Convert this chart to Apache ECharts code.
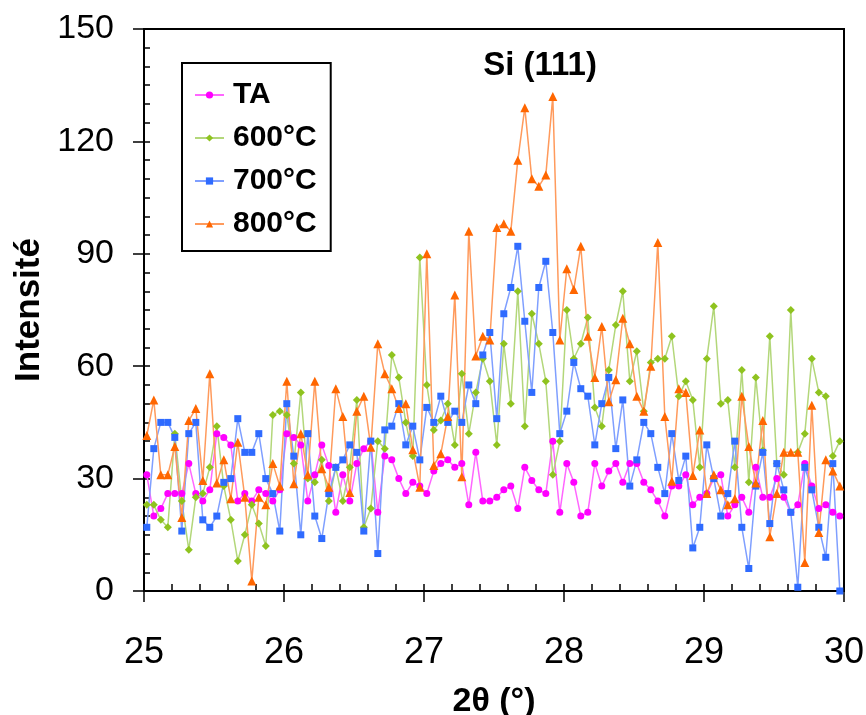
<!DOCTYPE html>
<html><head><meta charset="utf-8">
<script src="https://cdn.jsdelivr.net/npm/echarts@6/dist/echarts.min.js"></script>
<style>html,body{margin:0;padding:0;background:#fff}#c{width:866px;height:715px}</style>
</head><body><div id="c"></div>
<script>
const twoTheta = [
25.02,25.07,25.12,25.17,25.22,25.27,25.32,25.37,25.42,25.47,
25.52,25.57,25.62,25.67,25.72,25.77,25.82,25.87,25.92,25.97,
26.02,26.07,26.12,26.17,26.22,26.27,26.32,26.37,26.42,26.47,
26.52,26.57,26.62,26.67,26.72,26.77,26.82,26.87,26.92,26.97,
27.02,27.07,27.12,27.17,27.22,27.27,27.32,27.37,27.42,27.47,
27.52,27.57,27.62,27.67,27.72,27.77,27.82,27.87,27.92,27.97,
28.02,28.07,28.12,28.17,28.22,28.27,28.32,28.37,28.42,28.47,
28.52,28.57,28.62,28.67,28.72,28.77,28.82,28.87,28.92,28.97,
29.02,29.07,29.12,29.17,29.22,29.27,29.32,29.37,29.42,29.47,
29.52,29.57,29.62,29.67,29.72,29.77,29.82,29.87,29.92,29.97];

const TA = [
31,20,22,26,26,26,34,26,24,27,
42,41,39,24,26,24,27,26,24,27,
42,41,39,24,31,39,33.5,21,31,24,
34,38,40,21,36,35,30,26,29,28,
26,32,34,35,33,34,23,37,24,24,
25,27,28,22,33,29.5,27,26,40,21,
34,29,20,21,34,28,32,34,29,34,
34,29,27,24,20,28,28,31,23,25,
26,30,31,20,23,25,21,33,25,25,
30,25,21,23,34,28,22,23,21,20];

const T600 = [
23,23,19,17,42,24,11,25,26,33,
44,28,19,8,15,23,18,12,47,48,
47,34,53,30,29,35,24,33,24,33,
51,17,22,40,38,63,57,45,36,89,
55,43,45.5,50,39,58,42,53,62,56,
39,66,50,80,44,74,66,56,31,40,
75,62,66,73,49,44,59,71,80,56,
64,48,61,62,62,68,52,56,51,33,
62,76,50,51,33,59,29,57,37.5,68,
34,31,75,37,42,62,53,52,36,40];

const T700 = [
17,38,45,45,41,16,42,45,19,17,
20,29,30,46,37,37,42,30,26,16,
50,36,15,42,20,14,26,33,35,39,
37,16,40,10,43,44,50,39,44,35,
49,45,52,45,48,45,55,50,63,69,
46,74,81,92,72,53,81,88,69,42,
48,61,54,52,39,50,57,38,51,28,
35,45,42,33,26,42,29.5,36,11.5,17,
39,30,20,26,40,17,6,28,37,18,
34,27,21,1,33,27,17,9,34,0];

const T800 = [
41.5,51,31,31,38.6,19.6,45.5,48.7,29.5,58,
28.8,35,24.6,39.7,25,2.7,25,23,34,28,
56,28.6,42,31,56,32.6,27.7,54,46.6,26.3,
48,52,38.4,66,58,54,48.7,50,37.7,27.7,
90,33.5,36.6,46.6,79,30.5,96,62.7,68,67,
97,98,96,115,129,110,108,111,132,67,
86,80.5,92,68,57,70.6,50.5,56.4,72.8,66,
52,48,60,93,46.6,29.3,54,53,30.8,43,
26,31,27,23,24.6,52,38.6,28.8,45.5,14.5,
26,37,37,37,7.6,49.6,15.6,35,32,28];

const seriesNames = ['TA','600°C','700°C','800°C'];
const xTicks = [25,26,27,28,29,30];
const yTicks = [0,30,60,90,120,150];

const FONT = '"Liberation Sans", Arial, sans-serif';
function pairs(ys){ return twoTheta.map((x,i)=>[x, ys[i]]); }
function mk(name, ys, symbol, size, mColor, lColor){
  return {name, type:'line', data:pairs(ys), xAxisIndex:0, yAxisIndex:0,
    symbol, symbolSize:size, showSymbol:true,
    itemStyle:{color:mColor}, lineStyle:{color:lColor, width:1.5},
    emphasis:{disabled:true}, animation:false};
}
const G = {left:144, top:29, width:700, height:562};
const chart = echarts.init(document.getElementById('c'));
chart.setOption({
  animation:false,
  backgroundColor:'#fff',
  title:{text:'Si (111)', left:535, top:44, textAlign:'center',
    textStyle:{fontFamily:FONT, fontSize:33, fontWeight:'bold', color:'#000'}},
  legend:{data:seriesNames, orient:'vertical', left:182, top:63,
    padding:[17,14,12,12], itemGap:13, itemWidth:29, itemHeight:9,
    borderColor:'#000', borderWidth:2, backgroundColor:'#fff',
    textStyle:{fontFamily:FONT, fontSize:30, fontWeight:'bold', color:'#000', lineHeight:30, padding:[0,0,0,4]}},
  grid:[
    Object.assign({show:true, borderColor:'#000', borderWidth:2, backgroundColor:'transparent', outerBoundsMode:'none'}, G),
    Object.assign({show:false, outerBoundsMode:'none'}, G)
  ],
  xAxis:[
    {type:'value', gridIndex:0, min:xTicks[0], max:xTicks[xTicks.length-1], interval:1, position:'bottom',
     name:'2θ (°)', nameLocation:'middle', nameGap:94,
     nameTextStyle:{fontFamily:FONT, fontSize:34, fontWeight:'bold', color:'#000'},
     axisLine:{show:true, lineStyle:{color:'#000', width:2}},
     axisTick:{show:true, inside:false, length:11, lineStyle:{color:'#000', width:1.5}},
     axisLabel:{fontFamily:FONT, fontSize:36, color:'#000', margin:44},
     splitLine:{show:false}, minorTick:{show:false}},
    {type:'value', gridIndex:1, min:xTicks[0], max:xTicks[xTicks.length-1], interval:0.2, position:'bottom',
     axisLine:{show:false}, axisLabel:{show:false},
     axisTick:{show:true, inside:true, length:7, lineStyle:{color:'#000', width:1.5}},
     splitLine:{show:false}}
  ],
  yAxis:[
    {type:'value', gridIndex:0, min:yTicks[0], max:yTicks[yTicks.length-1], interval:30, position:'left',
     name:'Intensité', nameLocation:'middle', nameGap:96,
     nameTextStyle:{fontFamily:FONT, fontSize:35, fontWeight:'bold', color:'#000'},
     axisLine:{show:true, lineStyle:{color:'#000', width:2}},
     axisTick:{show:true, inside:false, length:11, lineStyle:{color:'#000', width:1.5}},
     axisLabel:{fontFamily:FONT, fontSize:34, color:'#000', margin:30},
     splitLine:{show:false}, minorTick:{show:false}},
    {type:'value', gridIndex:1, min:yTicks[0], max:yTicks[yTicks.length-1], interval:5, position:'left',
     axisLine:{show:false}, axisLabel:{show:false},
     axisTick:{show:true, inside:true, length:6, lineStyle:{color:'#000', width:1.5}},
     splitLine:{show:false}}
  ],
  series:[
    mk(seriesNames[0], TA, 'circle', 7, '#ff00ff', '#ff66ff'),
    mk(seriesNames[1], T600, 'diamond', 8, '#8fc31f', '#b3d77a'),
    mk(seriesNames[2], T700, 'rect', 7, '#2f6bff', '#7f9fff'),
    mk(seriesNames[3], T800, 'triangle', 9, '#ff6600', '#ff9a5c')
  ]
});
</script></body></html>
